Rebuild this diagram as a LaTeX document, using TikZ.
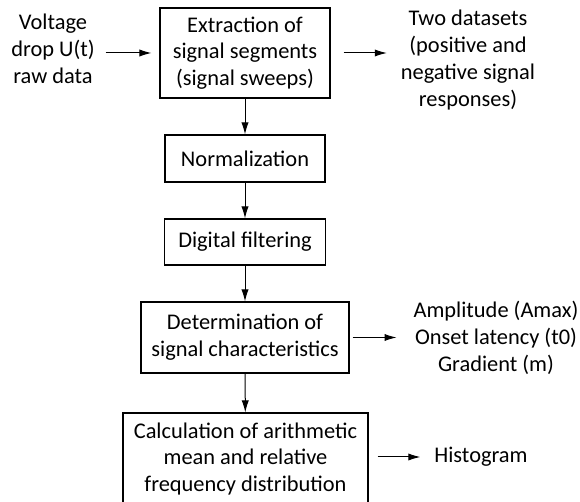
\documentclass[tikz,border=0pt]{standalone}
\usepackage{fontspec}
\setmainfont{Carlito}
\usetikzlibrary{arrows.meta}

\tikzset{
  proc/.style={draw, line width=0.55pt, inner sep=0pt, align=center},
  side/.style={align=center},
  flow/.style={-{Latex[length=6pt, width=3.6pt]}, line width=0.5pt},
}

\begin{document}
\begin{tikzpicture}[x=0.5pt, y=-0.5pt, font=\fontsize{11.2}{13.4}\selectfont]
  %flow chart, signal sweeps
  \useasboundingbox (0,0) rectangle (580,502);
  \node[proc, minimum width=85pt, minimum height=45pt] (extract) at (245,53)
    {Extraction of\\signal segments\\(signal sweeps)};
  \node[proc, minimum width=80pt, minimum height=23.5pt] (norm) at (245,158.5)
    {Normalization};
  \node[proc, minimum width=80.5pt, minimum height=23pt] (filter) at (245,242)
    {Digital filtering};
  \node[proc, minimum width=104pt, minimum height=35.5pt] (charac) at (245,337.5)
    {Determination of\\signal characteristics};
  \node[proc, minimum width=122.5pt, minimum height=46pt] (mean) at (245.5,459)
    {Calculation of arithmetic\\mean and relative\\frequency distribution};

  \node[side] (raw) at (53,49) {Voltage\\drop U(t)\\raw data};
  \node[side] (sets) at (468,60) {Two datasets\\(positive and\\negative signal\\responses)};
  \node[side] (param) at (496,338) {Amplitude (Amax)\\Onset latency (t0)\\Gradient (m)};
  \node[side] (hist) at (481,457) {Histogram};

  \draw[flow, shorten <=2pt, shorten >=4pt] (extract.west -| raw.east) -- (extract.west);
  \draw[flow] (extract) -- (norm);
  \draw[flow] (norm) -- (filter);
  \draw[flow] (filter) -- (charac);
  \draw[flow] (charac) -- (mean);
  \draw[flow, shorten <=6.5pt, shorten >=3.5pt] (extract.east) -- (extract.east -| sets.west);
  \draw[flow, shorten <=1.5pt, shorten >=5pt] (charac.east) -- (charac.east -| param.west);
  \draw[flow, shorten <=4.5pt, shorten >=3.5pt] (mean.east |- hist) -- (hist.west);
\end{tikzpicture}
\end{document}
